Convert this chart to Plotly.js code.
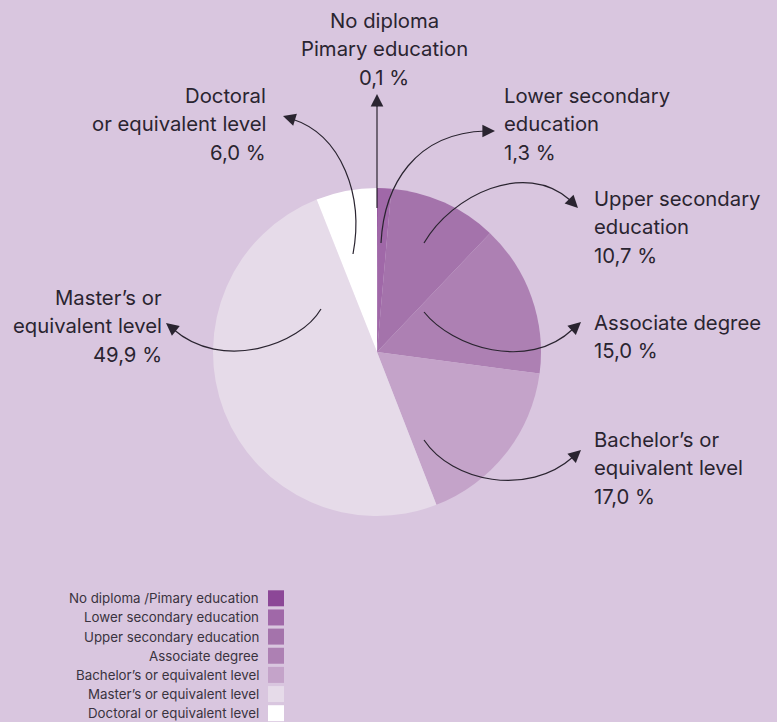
<!DOCTYPE html>
<html>
<head>
<meta charset="utf-8">
<script src="https://cdn.plot.ly/plotly-3.0.1.min.js"></script>
<style>html,body{margin:0;padding:0;background:#d9c6df;}#chart{width:777px;height:722px;}</style>
</head>
<body>
<div id="chart"></div>
<script>
// ---- data ----
const categories = [
  "No diploma /Pimary education",
  "Lower secondary education",
  "Upper secondary education",
  "Associate degree",
  "Bachelor’s or equivalent level",
  "Master’s or equivalent level",
  "Doctoral or equivalent level"
];
const values = [0.1, 1.3, 10.7, 15.0, 17.0, 49.9, 6.0];
const calloutLines = [
  ["No diploma", "Pimary education"],
  ["Lower secondary", "education"],
  ["Upper secondary", "education"],
  ["Associate degree"],
  ["Bachelor’s or", "equivalent level"],
  ["Master’s or", "equivalent level"],
  ["Doctoral", "or equivalent level"]
];
const colors = ["#8c4797", "#a068a8", "#a473ab", "#ad80b3", "#c4a3c9", "#e6dbe9", "#ffffff"];

// ---- layout helpers (pixel space) ----
const W = 777, H = 722;
const cx = 377, cy = 352, R = 164;
const textColor = "#2a2430";
const FONT = "Inter, Roboto, 'DejaVu Sans', sans-serif";
const lineGap = 28.5;

const labelPos = [
  {x: 384, y: 20, anchor: "center"},
  {x: 502, y: 95, anchor: "left"},
  {x: 592, y: 198, anchor: "left"},
  {x: 592, y: 322, anchor: "left"},
  {x: 592, y: 439, anchor: "left"},
  {x: 164, y: 297, anchor: "right"},
  {x: 268, y: 95, anchor: "right"}
];

// connector curves: path + arrow tip + a point behind the tip
const connectors = [
  {path: "M377,208 L377,104", tip: [377, 94], tail: [377, 108]},
  {path: "M381,243 C384,185 415,133 486,131", tip: [495, 131], tail: [482, 131]},
  {path: "M424,243 C452,195 525,160 570,200", tip: [578, 208], tail: [568, 198]},
  {path: "M424,312 C452,347 528,372 573,329", tip: [581, 322], tail: [571, 331]},
  {path: "M424,440 C452,482 528,497 573,457", tip: [581, 450], tail: [571, 459]},
  {path: "M321,309 C300,345 222,372 173,329", tip: [166, 323], tail: [176, 331]},
  {path: "M353,254 C364,196 342,135 292,119", tip: [283, 116], tail: [296, 120]}
];

const fmt = v => v.toFixed(1).replace(".", ",") + " %";

const annotations = [];
const shapes = [];

categories.forEach((c, i) => {
  const p = labelPos[i];
  const lines = calloutLines[i].concat([fmt(values[i])]);
  lines.forEach((t, j) => {
    annotations.push({
      xref: "x", yref: "y", x: p.x, y: p.y + j * lineGap,
      text: t, showarrow: false, xanchor: p.anchor, yanchor: "middle",
      font: {family: FONT, size: 20.3, color: textColor}
    });
  });
  const cn = connectors[i];
  shapes.push({type: "path", xref: "x", yref: "y", path: cn.path,
    line: {color: "#2a2430", width: 1.2}});
  annotations.push({
    xref: "x", yref: "y", axref: "x", ayref: "y",
    x: cn.tip[0], y: cn.tip[1], ax: cn.tail[0], ay: cn.tail[1],
    text: "", showarrow: true, arrowhead: 2, arrowsize: 2.1, arrowwidth: 1.2,
    arrowcolor: "#2a2430", standoff: 0
  });
  // legend
  const ly = 598.3 + i * 19.15;
  annotations.push({
    xref: "x", yref: "y", x: 261, y: ly, text: c, showarrow: false,
    xanchor: "right", yanchor: "middle",
    font: {family: FONT, size: 13.3, color: "#3a3340"}
  });
  shapes.push({type: "rect", xref: "x", yref: "y", x0: 268, x1: 284, y0: ly - 8, y1: ly + 8,
    fillcolor: colors[i], line: {width: 0}});
});

const trace = {
  type: "pie",
  labels: categories,
  values: values,
  sort: false,
  direction: "clockwise",
  rotation: 0,
  textinfo: "none",
  hoverinfo: "none",
  showlegend: false,
  marker: {colors: colors, line: {width: 0}},
  domain: {x: [(cx - R) / W, (cx + R) / W], y: [1 - (cy + R) / H, 1 - (cy - R) / H]}
};

const layout = {
  width: W, height: H,
  margin: {l: 0, r: 0, t: 0, b: 0},
  paper_bgcolor: "#d9c6df",
  plot_bgcolor: "rgba(0,0,0,0)",
  showlegend: false,
  xaxis: {range: [0, W], visible: false, fixedrange: true, domain: [0, 1]},
  yaxis: {range: [H, 0], visible: false, fixedrange: true, domain: [0, 1]},
  annotations: annotations,
  shapes: shapes
};

Plotly.newPlot("chart", [trace], layout, {displayModeBar: false, staticPlot: true});
</script>
</body>
</html>
